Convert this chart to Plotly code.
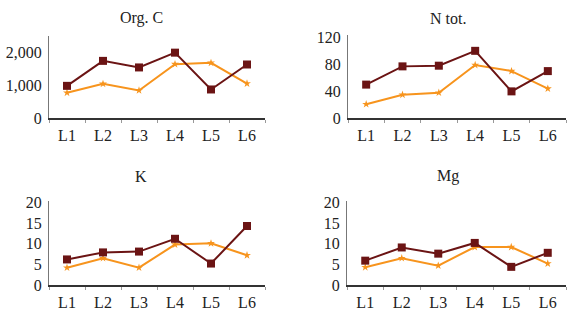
import plotly.graph_objects as go

categories = ["L1", "L2", "L3", "L4", "L5", "L6"]

orgc_dark = [990, 1750, 1550, 2000, 880, 1640]
orgc_orange = [780, 1050, 850, 1650, 1690, 1060]
ntot_dark = [50, 77, 78, 100, 40, 70]
ntot_orange = [21, 35, 38, 79, 70, 44]
k_dark = [6.2, 7.9, 8.1, 11.2, 5.2, 14.3]
k_orange = [4.2, 6.5, 4.2, 9.8, 10.1, 7.2]
mg_dark = [5.9, 9.1, 7.6, 10.2, 4.4, 7.8]
mg_orange = [4.3, 6.5, 4.7, 9.2, 9.2, 5.2]

titles = ["Org. C", "N tot.", "K", "Mg"]
ytickvals = [[0, 1000, 2000], [0, 40, 80, 120], [0, 5, 10, 15, 20], [0, 5, 10, 15, 20]]
yticktext = [["0", "1,000", "2,000"], ["0", "40", "80", "120"],
             ["0", "5", "10", "15", "20"], ["0", "5", "10", "15", "20"]]
yranges = [[0, 2520], [0, 124], [0, 20.3], [0, 20.3]]

DARK = "#6b1414"
ORANGE = "#f7941d"
FONT = "Liberation Serif"
W, H = 569, 334

panels = [
    (orgc_dark, orgc_orange, (49, 265), (30, 117)),
    (ntot_dark, ntot_orange, (348, 566), (29, 117)),
    (k_dark, k_orange, (49, 265), (204, 292)),
    (mg_dark, mg_orange, (347, 566), (204, 292)),
]

fig = go.Figure()
layout = dict(
    width=W, height=H, margin=dict(l=0, r=0, t=0, b=0),
    paper_bgcolor="white", plot_bgcolor="white", showlegend=False,
    font=dict(family=FONT, size=16, color="#222"),
    annotations=[],
)

for i, (dark, orange, (x0, x1), (y0, y1)) in enumerate(panels):
    n = "" if i == 0 else str(i + 1)
    xa, ya = "x" + n, "y" + n
    fig.add_trace(go.Scatter(x=categories, y=orange, xaxis=xa, yaxis=ya, mode="lines+markers",
                             line=dict(color=ORANGE, width=2),
                             marker=dict(symbol="star", size=6, color=ORANGE), cliponaxis=False))
    fig.add_trace(go.Scatter(x=categories, y=dark, xaxis=xa, yaxis=ya, mode="lines+markers",
                             line=dict(color=DARK, width=2),
                             marker=dict(symbol="square", size=8, color=DARK), cliponaxis=False))
    layout["xaxis" + n] = dict(
        domain=[x0 / W, x1 / W], anchor=ya, range=[-0.5, 5.5], type="category",
        showline=True, linecolor="#333", linewidth=1.5, ticks="outside", tickson="boundaries",
        ticklen=3, tickcolor="#999", showgrid=False, zeroline=False,
        tickfont=dict(family=FONT, size=16, color="#222"), ticklabelstandoff=2,
    )
    layout["yaxis" + n] = dict(
        domain=[1 - y1 / H, 1 - y0 / H], anchor=xa, range=yranges[i],
        tickvals=ytickvals[i], ticktext=yticktext[i], showline=True, linecolor="#777",
        linewidth=1, ticks="", showgrid=False, zeroline=False,
        tickfont=dict(family=FONT, size=16, color="#222"), ticklabelstandoff=3,
    )
    cx = (x0 + x1) / 2
    ty = 12 if i < 2 else 178
    layout["annotations"].append(dict(
        text=titles[i], x=(cx - 16 if i % 2 == 0 else cx - 9) / W, y=1 - ty / H,
        xref="paper", yref="paper", showarrow=False, xanchor="center", yanchor="middle",
        font=dict(family=FONT, size=16, color="#222"),
    ))

fig.update_layout(**layout)
fig.write_html("out.html")
